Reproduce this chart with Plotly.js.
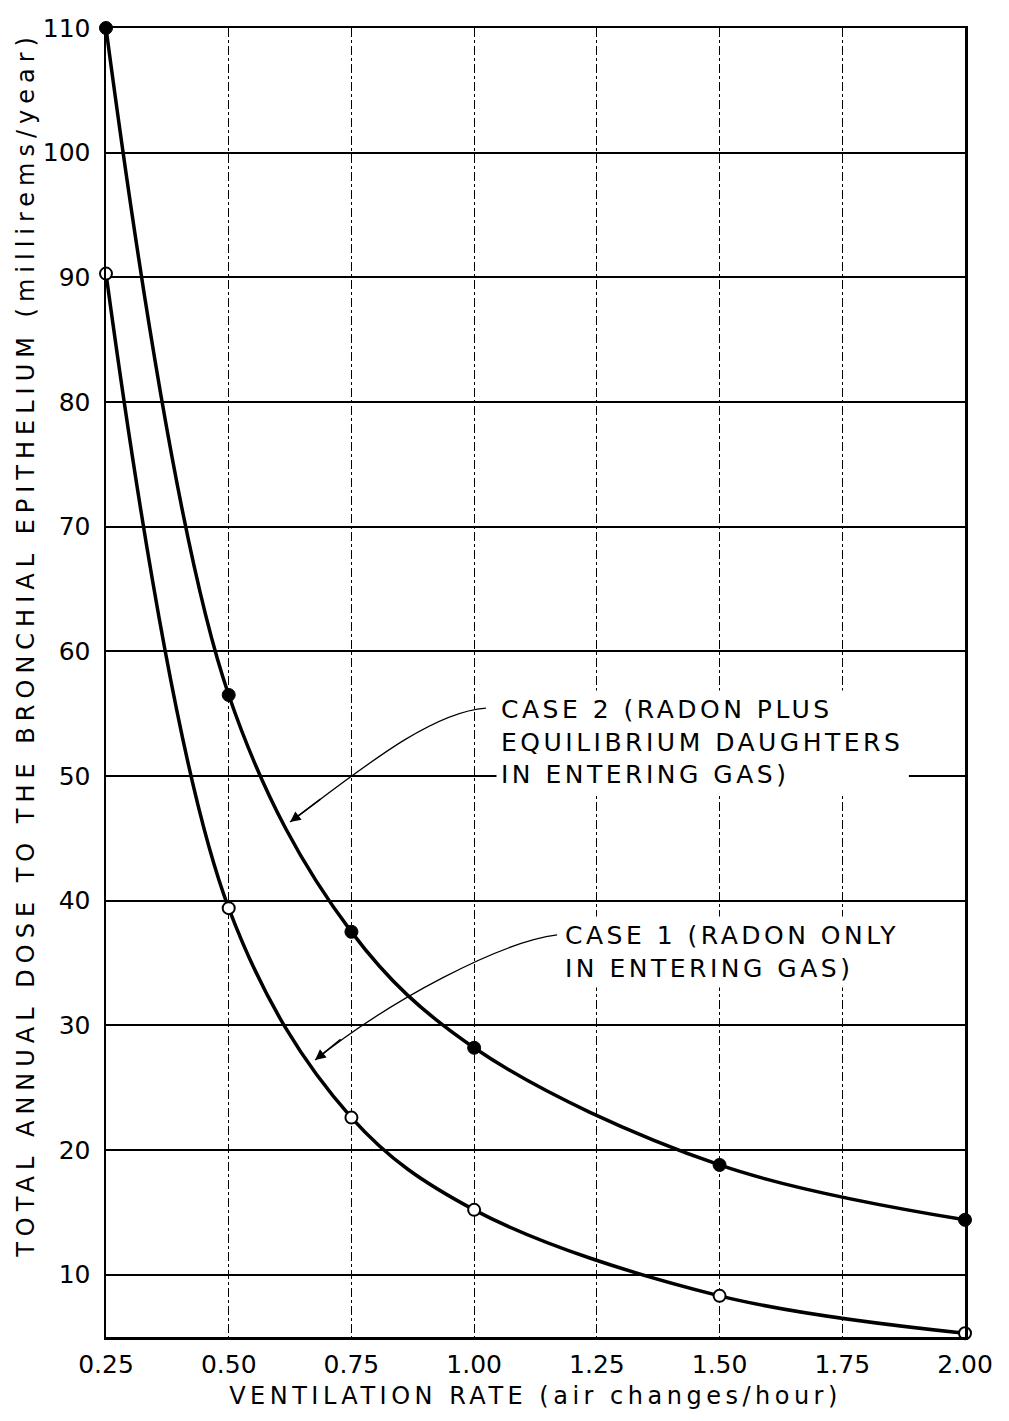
<!DOCTYPE html>
<html>
<head>
<meta charset="utf-8">
<script src="https://cdn.plot.ly/plotly-3.0.1.min.js"></script>
<style>
  html, body { margin: 0; padding: 0; background: #fff; }
  #chart { width: 1009px; height: 1421px; }
</style>
</head>
<body>
<div id="chart"></div>
<script>
// Ventilation rate (air changes/hour) at the plotted points
const ventilationRate = [0.25, 0.50, 0.75, 1.00, 1.50, 2.00];
// Case 2: radon plus equilibrium daughters in entering gas (millirems/year)
const case2Dose = [110, 56.5, 37.5, 28.2, 18.8, 14.4];
// Case 1: radon only in entering gas (millirems/year)
const case1Dose = [90.3, 39.4, 22.6, 15.2, 8.3, 5.3];

const xTickVals = [0.25, 0.50, 0.75, 1.00, 1.25, 1.50, 1.75, 2.00];
const xTickText = ["0.25", "0.50", "0.75", "1.00", "1.25", "1.50", "1.75", "2.00"];
const yTickVals = [10, 20, 30, 40, 50, 60, 70, 80, 90, 100, 110];
const yTickText = ["10", "20", "30", "40", "50", "60", "70", "80", "90", "100", "110"];

const case2Label = "CASE 2 (RADON PLUS<br>EQUILIBRIUM DAUGHTERS<br>IN ENTERING GAS)";
const case1Label = "CASE 1 (RADON ONLY<br>IN ENTERING GAS)";
const xTitle = "VENTILATION RATE (air changes/hour)";
const yTitle = "TOTAL ANNUAL DOSE TO THE BRONCHIAL EPITHELIUM (millirems/year)";

const FONT = "DejaVu Sans, Liberation Sans, sans-serif";

const traces = [
  {
    x: ventilationRate, y: case2Dose, type: "scatter", mode: "lines",
    line: { color: "#000", width: 3.5, shape: "spline", smoothing: 1 },
    hoverinfo: "skip", showlegend: false, cliponaxis: false
  },
  {
    x: ventilationRate, y: case1Dose, type: "scatter", mode: "lines",
    line: { color: "#000", width: 3.5, shape: "spline", smoothing: 1 },
    hoverinfo: "skip", showlegend: false, cliponaxis: false
  },
  {
    x: ventilationRate, y: case2Dose, type: "scatter", mode: "markers",
    marker: { color: "#000", size: 13, line: { color: "#000", width: 1 } },
    showlegend: false, cliponaxis: false, name: "Case 2"
  },
  {
    x: ventilationRate, y: case1Dose, type: "scatter", mode: "markers",
    marker: { color: "#fff", size: 12, line: { color: "#000", width: 2 } },
    showlegend: false, cliponaxis: false, name: "Case 1"
  }
];

const layout = {
  width: 1009, height: 1421,
  margin: { l: 106, r: 44, t: 28, b: 84 },
  paper_bgcolor: "#fff", plot_bgcolor: "#fff",
  font: { family: FONT, color: "#000", size: 23 },
  showlegend: false,
  xaxis: {
    range: [0.25, 2.0],
    tickvals: xTickVals, ticktext: xTickText,
    ticks: "", ticklabelstandoff: 3,
    tickfont: { family: FONT, size: 25, color: "#000" },
    showgrid: true, gridcolor: "#000", gridwidth: 1.2, griddash: "dashdot",
    showline: true, linecolor: "#000", linewidth: 2.5, mirror: true,
    zeroline: false,
    title: { text: xTitle, font: { family: FONT, size: 24, color: "#000" }, standoff: 10 }
  },
  yaxis: {
    range: [5, 110],
    tickvals: yTickVals, ticktext: yTickText,
    ticks: "", ticklabelstandoff: 8,
    tickfont: { family: FONT, size: 25, color: "#000" },
    showgrid: true, gridcolor: "#000", gridwidth: 2.2,
    showline: true, linecolor: "#000", linewidth: 2.5, mirror: true,
    zeroline: false
  },
  shapes: [
    { type: "path", xref: "x", yref: "y",
      path: "M 1.024,55.45 C 0.910,55.13 0.767,50.48 0.625,46.31",
      line: { color: "#000", width: 1.3 } },
    { type: "path", xref: "x", yref: "y",
      path: "M 1.169,37.25 C 1.053,36.68 0.829,32.03 0.676,27.22",
      line: { color: "#000", width: 1.3 } }
  ],
  annotations: [
    { x: 1.045, y: 52.7, xref: "x", yref: "y", xanchor: "left", yanchor: "middle",
      text: case2Label, showarrow: false, align: "left",
      font: { family: FONT, size: 25, color: "#000" }, bgcolor: "#fff", borderpad: 4 },
    { x: 1.175, y: 35.9, xref: "x", yref: "y", xanchor: "left", yanchor: "middle",
      text: case1Label, showarrow: false, align: "left",
      font: { family: FONT, size: 25, color: "#000" }, bgcolor: "#fff", borderpad: 4 },
    { x: 0.625, y: 46.31, ax: 0.690, ay: 48.24, xref: "x", yref: "y", axref: "x", ayref: "y",
      text: "", showarrow: true, arrowhead: 2, arrowsize: 1.4, arrowwidth: 1.5, arrowcolor: "#000" },
    { x: 0.676, y: 27.22, ax: 0.731, ay: 28.98, xref: "x", yref: "y", axref: "x", ayref: "y",
      text: "", showarrow: true, arrowhead: 2, arrowsize: 1.4, arrowwidth: 1.5, arrowcolor: "#000" },
    { x: -0.094, y: 0.529, xref: "paper", yref: "paper", xanchor: "center", yanchor: "middle",
      text: yTitle, textangle: -90, showarrow: false,
      font: { family: FONT, size: 24, color: "#000" } }
  ]
};

const spacing = { 0: 3.5, 1: 3.5, 4: 6 };

Plotly.newPlot("chart", traces, layout, { staticPlot: true, displayModeBar: false }).then(function () {
  document.querySelectorAll(".xtitle").forEach(function (t) { t.style.letterSpacing = "4.5px"; });
  document.querySelectorAll("g.annotation").forEach(function (g) {
    const idx = g.getAttribute("data-index");
    if (spacing[idx] === undefined) return;
    const txt = g.querySelector("text.annotation-text");
    if (!txt) return;
    txt.style.letterSpacing = spacing[idx] + "px";
    const rect = g.querySelector("rect.bg");
    if (rect && idx !== "4") {
      const bb = txt.getBBox();
      rect.setAttribute("width", bb.width + 10);
    }
  });
});
</script>
</body>
</html>
